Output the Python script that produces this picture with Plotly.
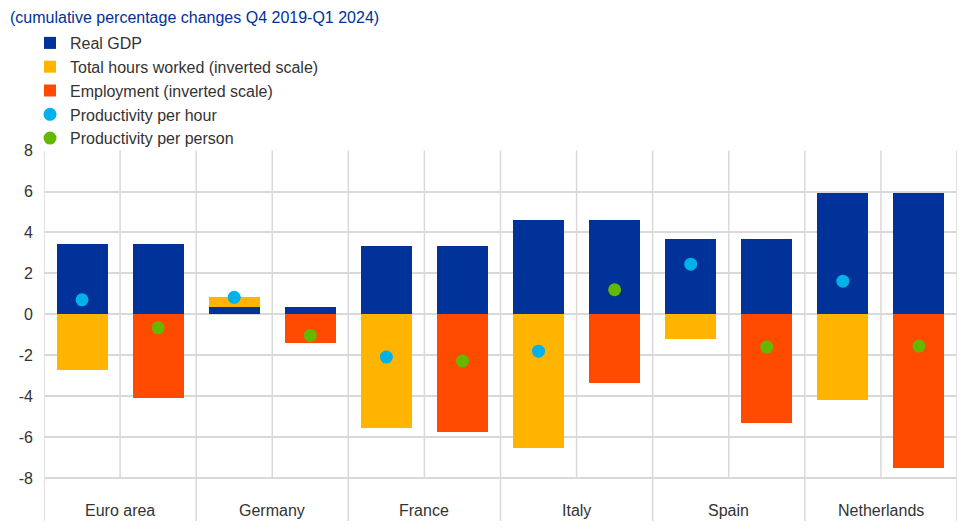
import plotly.graph_objects as go

countries = ["Euro area", "Germany", "France", "Italy", "Spain", "Netherlands"]
real_gdp = [3.45, 0.34, 3.32, 4.63, 3.69, 5.95]
hours_worked_inv = [-2.70, 0.50, -5.57, -6.51, -1.21, -4.19]
employment_inv = [-4.08, -1.39, -5.76, -3.38, -5.33, -7.51]
prod_per_hour = [0.71, 0.83, -2.09, -1.80, 2.45, 1.62]
prod_per_person = [-0.66, -1.03, -2.28, 1.20, -1.60, -1.55]
y_ticks = [8, 6, 4, 2, 0, -2, -4, -6, -8]

C_GDP = "#003299"
C_HOURS = "#FFB400"
C_EMP = "#FF4B00"
C_PH = "#00B1EA"
C_PP = "#65B800"
GRID = "#d9d9d9"
TXT = "#333333"
FONT = "Liberation Sans, Arial, sans-serif"

n = len(countries)
left_x = [2 * i for i in range(n)]
right_x = [2 * i + 1 for i in range(n)]
BW = 0.67

fig = go.Figure()
fig.add_trace(go.Bar(x=left_x + right_x, y=real_gdp + real_gdp, name="Real GDP",
                     marker=dict(color=C_GDP, line=dict(width=0)), width=BW))
fig.add_trace(go.Bar(x=left_x, y=hours_worked_inv, name="Total hours worked (inverted scale)",
                     marker=dict(color=C_HOURS, line=dict(width=0)), width=BW))
fig.add_trace(go.Bar(x=right_x, y=employment_inv, name="Employment (inverted scale)",
                     marker=dict(color=C_EMP, line=dict(width=0)), width=BW))
fig.add_trace(go.Scatter(x=left_x, y=prod_per_hour, name="Productivity per hour", mode="markers",
                         marker=dict(color=C_PH, size=13, line=dict(width=0))))
fig.add_trace(go.Scatter(x=right_x, y=prod_per_person, name="Productivity per person", mode="markers",
                         marker=dict(color=C_PP, size=13, line=dict(width=0))))

shapes = []
for k in range(2 * n + 1):
    xv = k - 0.5
    group_edge = (k % 2 == 0)
    shapes.append(dict(type="line", xref="x", yref="y", x0=xv, x1=xv,
                       y0=-10.1 if group_edge else -8, y1=8,
                       line=dict(color=GRID, width=1.5), layer="below"))

annotations = []
for i, c in enumerate(countries):
    annotations.append(dict(x=2 * i + 0.5, y=-9.6, xref="x", yref="y", text=c, showarrow=False,
                            font=dict(size=16, color=TXT, family=FONT)))

fig.update_layout(
    width=965, height=531,
    margin=dict(l=44, r=8, t=150, b=10, autoexpand=False),
    paper_bgcolor="white", plot_bgcolor="white",
    barmode="relative",
    font=dict(family=FONT, size=16, color=TXT),
    title=dict(text="(cumulative percentage changes Q4 2019-Q1 2024)",
               x=10 / 965, xref="container", xanchor="left",
               y=1 - 17 / 531, yref="container", yanchor="middle",
               font=dict(size=16, color=C_GDP, family=FONT)),
    legend=dict(x=30 / 965, xref="container", xanchor="left",
                y=1 - 26 / 531, yref="container", yanchor="top",
                font=dict(size=16, color=TXT, family=FONT),
                bgcolor="rgba(0,0,0,0)", tracegroupgap=0),
    xaxis=dict(range=[-0.5, 2 * n - 0.5], showgrid=False, zeroline=False,
               showticklabels=False, showline=False, fixedrange=True),
    yaxis=dict(range=[-10.1, 8.03], tickvals=y_ticks, ticktext=[str(v) for v in y_ticks],
               showgrid=True, gridcolor=GRID, gridwidth=1.5, zeroline=False,
               showline=False, ticks="", ticklabelstandoff=10,
               tickfont=dict(size=16, color=TXT, family=FONT)),
    shapes=shapes,
    annotations=annotations,
    bargap=0,
)

fig.write_html("out.html", config={"displayModeBar": False},
               post_script="document.body.style.margin='0';document.body.style.overflow='hidden';")
